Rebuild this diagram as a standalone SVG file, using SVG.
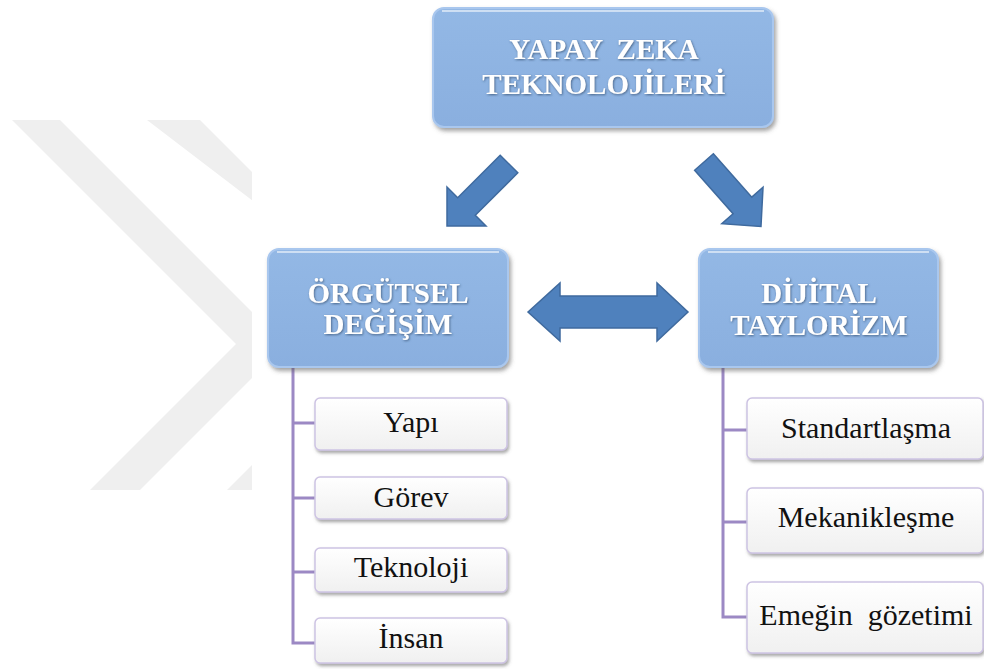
<svg xmlns="http://www.w3.org/2000/svg" width="984" height="669" viewBox="0 0 984 669">
  <style>
    text { font-family: "Liberation Serif", "Times New Roman", serif; }
    .head { font-weight: bold; font-size: 29px; fill: #ffffff; text-anchor: middle; filter: url(#txtShadow); }
    .item { font-size: 30px; fill: #111111; text-anchor: middle; }
    .mainBox { fill: url(#blueFill); stroke: #a9c7ee; stroke-width: 2; filter: url(#boxShadow); }
    .gloss { fill: none; stroke: #ffffff; stroke-opacity: 0.55; stroke-width: 2; }
    .itemBox { fill: url(#greyFill); stroke: #cdc3e3; stroke-width: 1.5; filter: url(#smallShadow); }
    .bigArrow { fill: #4f81bd; stroke: #3f6a9e; stroke-width: 1.5; stroke-linejoin: miter; }
    .tree { fill: none; stroke: #9c89c4; stroke-width: 3; }
    .mark { fill: #efefef; }
  </style>
  <defs>
    <linearGradient id="blueFill" x1="0" y1="0" x2="0" y2="1">
      <stop offset="0" stop-color="#93b8e5"/>
      <stop offset="1" stop-color="#8aafdf"/>
    </linearGradient>
    <linearGradient id="greyFill" x1="0" y1="0" x2="0" y2="1">
      <stop offset="0" stop-color="#ffffff"/>
      <stop offset="1" stop-color="#f0f0f0"/>
    </linearGradient>
    <filter id="boxShadow" x="-10%" y="-10%" width="125%" height="130%">
      <feDropShadow dx="2" dy="3" stdDeviation="2" flood-color="#555555" flood-opacity="0.55"/>
    </filter>
    <filter id="smallShadow" x="-10%" y="-10%" width="125%" height="140%">
      <feDropShadow dx="1.5" dy="2.5" stdDeviation="1.5" flood-color="#555555" flood-opacity="0.5"/>
    </filter>
    <filter id="txtShadow" x="-10%" y="-20%" width="120%" height="150%">
      <feDropShadow dx="0.8" dy="1" stdDeviation="0.8" flood-color="#34506f" flood-opacity="0.8"/>
    </filter>
    <clipPath id="markClip">
      <rect x="0" y="0" width="252" height="669"/>
    </clipPath>
  </defs>

  <rect width="984" height="669" fill="#ffffff"/>

  <!-- faint double chevron in the background -->
  <g id="watermark" clip-path="url(#markClip)">
    <polygon class="mark" points="12,120 60,120 285,345 140,490 90,490 236,344"/>
    <polygon class="mark" points="147,120 200,120 372,292 372,398 277,490 227,490 372,345 372,292"/>
  </g>

  <!-- connectors -->
  <g id="connectors">
    <polygon id="arrow-left" class="bigArrow" points="500.2,155.2 457.7,197.7 447,187 447,226 486,226 475.3,215.3 517.8,172.8"/>
    <polygon id="arrow-right" class="bigArrow" transform="translate(704,162) rotate(48.5)" points="0,-12.5 58,-12.5 58,-27.5 86,0 58,27.5 58,12.5 0,12.5"/>
    <polygon id="arrow-both" class="bigArrow" points="528,312 560,283 560,296 657,296 657,283 688,312 657,341 657,328 560,328 560,341"/>
    <path class="tree" d="M293,367 V643 H315 M293,423 H315 M293,498 H315 M293,572 H315"/>
    <path class="tree" d="M723,367 V617 H747 M723,430 H747 M723,522 H747"/>
  </g>

  <!-- top node -->
  <g id="node-yapay-zeka">
    <rect class="mainBox" x="433" y="8" width="340" height="119" rx="11"/>
    <path class="gloss" d="M442,11 H764"/>
    <text class="head" x="604" y="59" xml:space="preserve">YAPAY  ZEKA</text>
    <text class="head" x="604" y="94">TEKNOLOJİLERİ</text>
  </g>

  <!-- left main node -->
  <g id="node-orgutsel">
    <rect class="mainBox" x="268" y="249" width="240" height="118" rx="11"/>
    <path class="gloss" d="M277,252 H499"/>
    <text class="head" x="388" y="303">ÖRGÜTSEL</text>
    <text class="head" x="388" y="334">DEĞİŞİM</text>
  </g>

  <!-- right main node -->
  <g id="node-dijital">
    <rect class="mainBox" x="699" y="249" width="239" height="118" rx="11"/>
    <path class="gloss" d="M708,252 H929"/>
    <text class="head" x="819" y="303">DİJİTAL</text>
    <text class="head" x="819" y="335">TAYLORİZM</text>
  </g>

  <!-- left items -->
  <g id="item-yapi">
    <rect class="itemBox" x="315" y="398" width="192" height="52" rx="5"/>
    <text class="item" x="411" y="432">Yapı</text>
  </g>
  <g id="item-gorev">
    <rect class="itemBox" x="315" y="477" width="192" height="42" rx="5"/>
    <text class="item" x="411" y="507">Görev</text>
  </g>
  <g id="item-teknoloji">
    <rect class="itemBox" x="315" y="548" width="192" height="44" rx="5"/>
    <text class="item" x="411" y="577">Teknoloji</text>
  </g>
  <g id="item-insan">
    <rect class="itemBox" x="315" y="618" width="192" height="45" rx="5"/>
    <text class="item" x="411" y="648">İnsan</text>
  </g>

  <!-- right items -->
  <g id="item-standart">
    <rect class="itemBox" x="747" y="398" width="236" height="61" rx="5"/>
    <text class="item" x="866" y="438">Standartlaşma</text>
  </g>
  <g id="item-mekanik">
    <rect class="itemBox" x="747" y="488" width="236" height="65" rx="5"/>
    <text class="item" x="866" y="527">Mekanikleşme</text>
  </g>
  <g id="item-emek">
    <rect class="itemBox" x="747" y="582" width="236" height="71" rx="5"/>
    <text class="item" x="866" y="625" xml:space="preserve">Emeğin  gözetimi</text>
  </g>
</svg>
